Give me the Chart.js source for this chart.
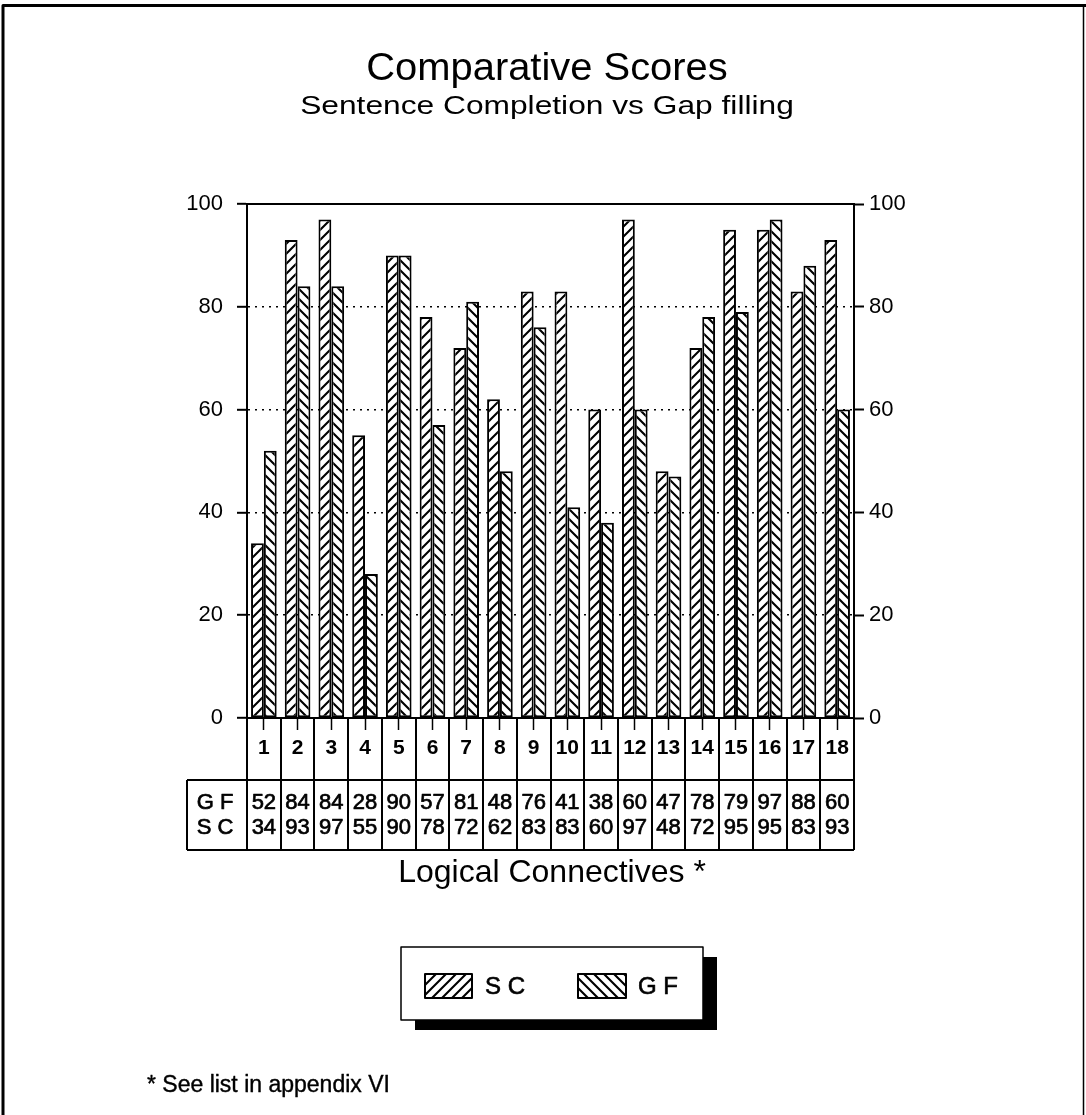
<!DOCTYPE html>
<html>
<head>
<meta charset="utf-8">
<script src="https://cdn.jsdelivr.net/npm/chart.js@4/dist/chart.umd.min.js"></script>
<style>
  html, body { margin: 0; padding: 0; background: #fff; }
  #wrap { position: relative; width: 1086px; height: 1115px; }
  canvas { display: block; }
</style>
</head>
<body>
<div id="wrap"><canvas id="chart" width="1086" height="1115"></canvas></div>
<script>
// Logical connectives 1..18 and the two score series
const categories = ['1','2','3','4','5','6','7','8','9','10','11','12','13','14','15','16','17','18'];
const scScores = [34, 93, 97, 55, 90, 78, 72, 62, 83, 83, 60, 97, 48, 72, 95, 95, 83, 93];
const gfScores = [52, 84, 84, 28, 90, 57, 81, 48, 76, 41, 38, 60, 47, 78, 79, 97, 88, 60];
const seriesNames = ['S C', 'G F'];
const yTickStep = 20;
const yMax = 100;

const titleText = 'Comparative Scores';
const subtitleText = 'Sentence Completion vs Gap filling';
const axisTitleText = 'Logical Connectives *';
const footnoteText = '* See list in appendix VI';

const FONT = "'Liberation Sans', Arial, Helvetica, sans-serif";

const canvas = document.getElementById('chart');
const ctx0 = canvas.getContext('2d');

// Diagonal hatch fill: dir > 0 draws '/', dir < 0 draws '\'
function hatch(dir) {
  const s = 10;
  const t = document.createElement('canvas');
  t.width = s; t.height = s;
  const g = t.getContext('2d');
  g.fillStyle = '#fff';
  g.fillRect(0, 0, s, s);
  g.strokeStyle = '#000';
  g.lineWidth = 2.1;
  g.beginPath();
  if (dir > 0) {
    g.moveTo(-2, s + 2); g.lineTo(s + 2, -2);
    g.moveTo(-2, 2); g.lineTo(2, -2);
    g.moveTo(s - 2, s + 2); g.lineTo(s + 2, s - 2);
  } else {
    g.moveTo(-2, -2); g.lineTo(s + 2, s + 2);
    g.moveTo(s - 2, -2); g.lineTo(s + 2, 2);
    g.moveTo(-2, s - 2); g.lineTo(2, s + 2);
  }
  g.stroke();
  return ctx0.createPattern(t, 'repeat');
}

const fills = [hatch(1), hatch(-1)];

// Text drawn slightly heavier, like the rest of the printed page
function heavyText(ctx, text, x, y, w) {
  ctx.lineWidth = w;
  ctx.strokeText(text, x, y);
  ctx.fillText(text, x, y);
}

// Centred text stretched horizontally by sx
function wideText(ctx, text, x, y, sx) {
  ctx.save();
  ctx.translate(x, y);
  ctx.scale(sx, 1);
  ctx.fillText(text, 0, 0);
  ctx.restore();
}

// Frame, titles, data table under the axis, legend and footnote
const decorations = {
  id: 'decorations',
  afterDraw(chart) {
    const ctx = chart.ctx;
    const area = chart.chartArea;
    const xs = chart.scales.x;
    const ys = chart.scales.y;
    const n = categories.length;
    const step = xs.getPixelForValue(1) - xs.getPixelForValue(0);
    const cx = 547;

    ctx.save();
    ctx.fillStyle = '#000';
    ctx.strokeStyle = '#000';
    ctx.lineJoin = 'round';

    // page frame
    ctx.lineWidth = 3;
    ctx.beginPath();
    ctx.moveTo(3, 1115); ctx.lineTo(3, 5.5); ctx.lineTo(1086, 5.5);
    ctx.stroke();
    ctx.lineWidth = 1.5;
    ctx.beginPath();
    ctx.moveTo(1083.5, 5); ctx.lineTo(1083.5, 1115);
    ctx.stroke();

    // titles
    ctx.textAlign = 'center';
    ctx.textBaseline = 'middle';
    ctx.font = '38px ' + FONT;
    wideText(ctx, titleText, cx, 70, 1.05);
    ctx.font = '26px ' + FONT;
    wideText(ctx, subtitleText, cx, 107, 1.22);

    // top edge of plot at the maximum value
    const yTop = ys.getPixelForValue(yMax);
    ctx.lineWidth = 2;
    ctx.beginPath();
    ctx.moveTo(area.left, yTop); ctx.lineTo(area.right, yTop);
    ctx.stroke();

    // cells under the axis
    const rowTop = 780, rowBottom = 850, tableLeft = 187;
    const left = xs.getPixelForValue(0) - step / 2;
    const right = xs.getPixelForValue(n - 1) + step / 2;
    ctx.lineWidth = 2;
    ctx.beginPath();
    for (let i = 0; i <= n; i++) {
      const x = Math.round(xs.getPixelForValue(i) - step / 2);
      ctx.moveTo(x, area.bottom); ctx.lineTo(x, rowBottom);
    }
    ctx.moveTo(tableLeft, rowTop); ctx.lineTo(right, rowTop);
    ctx.moveTo(tableLeft, rowBottom); ctx.lineTo(right, rowBottom);
    ctx.moveTo(tableLeft, rowTop); ctx.lineTo(tableLeft, rowBottom);
    ctx.stroke();

    const gfY = 803, scY = 828;
    ctx.font = '22px ' + FONT;
    ctx.textAlign = 'center';
    heavyText(ctx, seriesNames[1], (tableLeft + left) / 2 - 2, gfY, 0.7);
    heavyText(ctx, seriesNames[0], (tableLeft + left) / 2 - 2, scY, 0.7);
    for (let i = 0; i < n; i++) {
      const x = xs.getPixelForValue(i);
      heavyText(ctx, String(gfScores[i]), x, gfY, 0.7);
      heavyText(ctx, String(scScores[i]), x, scY, 0.7);
    }

    // category axis title
    ctx.font = '32px ' + FONT;
    ctx.fillText(axisTitleText, 552, 873);

    // legend box with drop shadow
    const lx = 401, ly = 947, lw = 302, lh = 73;
    ctx.fillRect(lx + 14, ly + 10, lw, lh);
    ctx.fillStyle = '#fff';
    ctx.fillRect(lx, ly, lw, lh);
    ctx.lineWidth = 1.5;
    ctx.strokeRect(lx, ly, lw, lh);
    const sw = [[425, 974, 47, 24], [578, 974, 48, 24]];
    const tx = [485, 638];
    for (let k = 0; k < 2; k++) {
      const [x, y, w, h] = sw[k];
      ctx.fillStyle = fills[k];
      ctx.fillRect(x, y, w, h);
      ctx.lineWidth = 2;
      ctx.strokeRect(x, y, w, h);
      ctx.fillStyle = '#000';
      ctx.font = '24px ' + FONT;
      ctx.textAlign = 'left';
      heavyText(ctx, seriesNames[k], tx[k], y + h / 2 + 1, 0.6);
    }

    // footnote
    ctx.font = '23px ' + FONT;
    ctx.textAlign = 'left';
    heavyText(ctx, footnoteText, 147, 1086, 0.4);
    ctx.restore();
  }
};

const tickFont = { size: 22, family: FONT };

new Chart(ctx0, {
  type: 'bar',
  data: {
    labels: categories,
    datasets: [
      {
        label: seriesNames[0],
        data: scScores,
        backgroundColor: fills[0],
        borderColor: '#000',
        borderWidth: 2,
        borderSkipped: false,
        categoryPercentage: 0.76,
        barPercentage: 1.0,
        yAxisID: 'y'
      },
      {
        label: seriesNames[1],
        data: gfScores,
        backgroundColor: fills[1],
        borderColor: '#000',
        borderWidth: 2,
        borderSkipped: false,
        categoryPercentage: 0.76,
        barPercentage: 1.0,
        yAxisID: 'y'
      }
    ]
  },
  options: {
    responsive: false,
    animation: false,
    events: [],
    layout: { padding: { left: 187, right: 172, top: 204, bottom: 337 } },
    plugins: {
      legend: { display: false },
      title: { display: false },
      tooltip: { enabled: false }
    },
    scales: {
      x: {
        offset: true,
        grid: {
          display: true,
          drawOnChartArea: false,
          offset: false,
          drawTicks: true,
          tickLength: 12,
          tickWidth: 1.5,
          tickColor: '#000',
          color: '#000'
        },
        border: { display: true, color: '#000', width: 2 },
        ticks: {
          color: '#000',
          font: { size: 21, family: FONT, weight: 'bold' },
          padding: 6,
          maxRotation: 0,
          autoSkip: false
        },
        afterFit(s) { s.height = 60; }
      },
      y: {
        position: 'left',
        min: 0,
        max: yMax,
        ticks: { stepSize: yTickStep, color: '#000', font: tickFont, padding: 14 },
        grid: {
          color: c => (c.tick && (c.tick.value === 0 || c.tick.value === yMax)) ? 'rgba(0,0,0,0)' : '#000',
          lineWidth: 1.6,
          drawTicks: true,
          tickLength: 10,
          tickWidth: 2,
          tickColor: '#000',
          tickBorderDash: []
        },
        border: { display: true, color: '#000', width: 2, dash: [2, 5] },
        afterFit(s) { s.width = 60; }
      },
      y2: {
        position: 'right',
        min: 0,
        max: yMax,
        ticks: { stepSize: yTickStep, color: '#000', font: tickFont, padding: 5 },
        grid: {
          drawOnChartArea: false,
          drawTicks: true,
          tickLength: 10,
          tickWidth: 2,
          tickColor: '#000',
          color: '#000'
        },
        border: { display: true, color: '#000', width: 2 },
        afterFit(s) { s.width = 60; }
      }
    }
  },
  plugins: [decorations]
});
</script>
</body>
</html>
